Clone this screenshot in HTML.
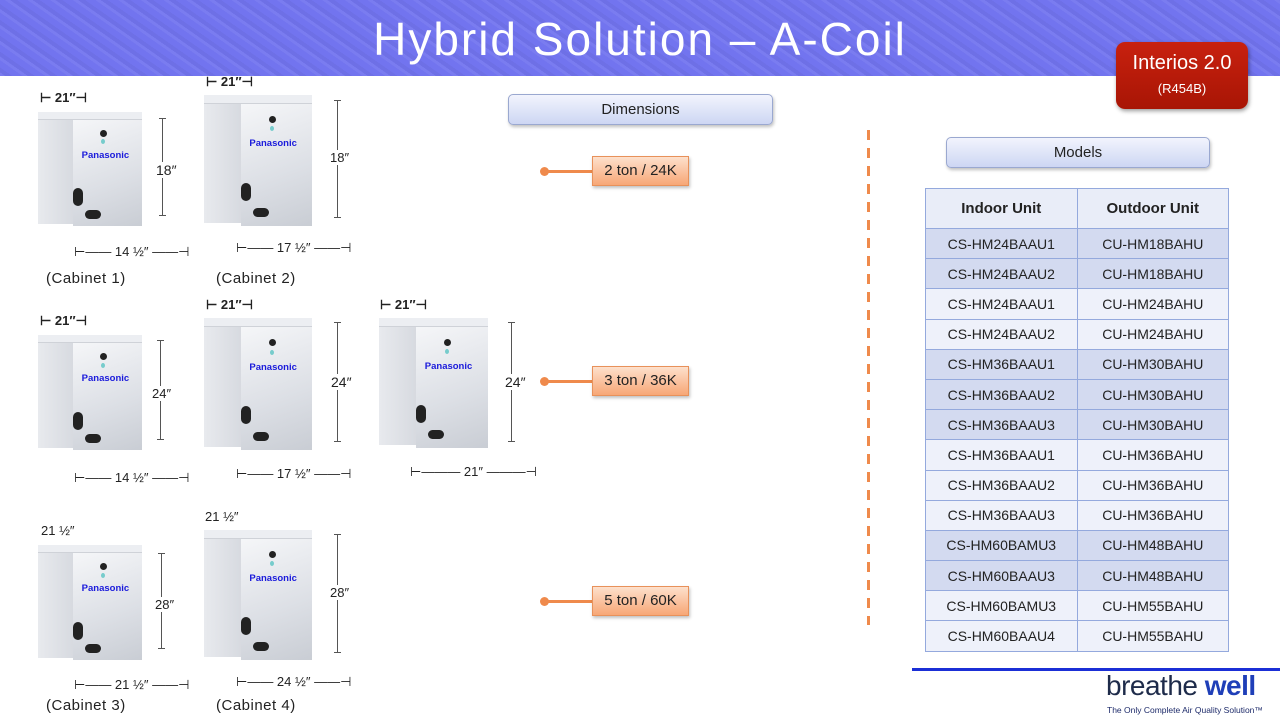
<!DOCTYPE html>
<html><head><meta charset="utf-8"><style>
*{margin:0;padding:0;box-sizing:border-box}
body{width:1280px;height:720px;position:relative;background:#fff;font-family:"Liberation Sans",sans-serif;overflow:hidden;color:#222}
.a{position:absolute}
#hdr{left:0;top:0;width:1280px;height:76px;background:#7274ef;background-image:repeating-linear-gradient(35deg,rgba(255,255,255,.06) 0 3px,rgba(0,0,0,.04) 3px 7px,transparent 7px 13px)}
#title{left:0;top:12px;width:1280px;text-align:center;color:#fff;font-size:46px;letter-spacing:2px}
#int{left:1116px;top:42px;width:132px;height:67px;border-radius:9px;background:linear-gradient(#c8210f,#a81505);color:#fff;text-align:center;box-shadow:1px 2px 4px rgba(0,0,0,.4)}
.cab{position:absolute}
.cab .side{position:absolute;left:0;top:6%;width:34%;height:92%;background:linear-gradient(90deg,#e8eaee,#d7dae0)}
.cab .front{position:absolute;left:34%;top:4%;width:66%;height:96%;background:linear-gradient(160deg,#f6f7f9,#dcdfe5 60%,#c9cdd4)}
.cab .top{position:absolute;left:0;top:0;width:100%;height:7%;background:#eceef2;border-bottom:1px solid #cfd2d8}
.cab .logo{position:absolute;left:42%;top:33%;font:bold 9.5px "Liberation Sans",sans-serif;color:#1a1adb}
.cab .btn{position:absolute;left:60%;top:16%;width:7px;height:7px;border-radius:50%;background:#222}
.cab .led{position:absolute;left:61%;top:24%;width:4px;height:5px;border-radius:50%;background:#7cc}
.cab .h1{position:absolute;left:34%;top:67%;width:10px;height:18px;border-radius:5px;background:#222}
.cab .h2{position:absolute;left:45%;top:86%;width:16px;height:9px;border-radius:5px;background:#222}
.vl{position:absolute;width:1px;background:#555}
.vl:before,.vl:after{content:"";position:absolute;left:-3px;width:7px;height:1px;background:#555}
.vl:before{top:0}.vl:after{bottom:0}
.t{position:absolute;font-size:13px;color:#222}
.cl{position:absolute;font-size:15px;color:#222;letter-spacing:.5px}
.pill{position:absolute;border:1px solid #9aa8d0;border-radius:5px;background:linear-gradient(#f2f4fd,#cdd6f3);text-align:center;font-size:15px;color:#222;box-shadow:1px 2px 3px rgba(0,0,0,.25)}
.ob{position:absolute;left:592px;width:97px;height:30px;background:linear-gradient(#fde0cc,#f7a776);border:1px solid #e8915a;text-align:center;line-height:28px;font-size:15px;color:#222;box-shadow:1px 2px 3px rgba(0,0,0,.25)}
.ol{position:absolute;left:544px;width:48px;height:3px;background:#ef8a4c}
.od{position:absolute;left:540px;width:9px;height:9px;border-radius:50%;background:#ef8a4c}
table{position:absolute;left:925px;top:188px;border-collapse:collapse;width:304px}
td{border:1px solid #94a9dd;height:30.2px;text-align:center;font-size:14px;color:#222;width:152px}
tr.h td{height:40px;font-weight:bold;font-size:15px;background:#e9edf8}
tr.s td{background:#d3daf0}
tr.w td{background:#eef1fa}
</style></head><body>
<div id="hdr" class="a"></div>
<div id="title" class="a">Hybrid Solution – A-Coil</div>
<div id="int" class="a"><div style="font-size:20px;margin-top:10px">Interios 2.0</div><div style="font-size:13px;margin-top:6px">(R454B)</div></div>

<!-- row1 -->
<div class="cab" style="left:38px;top:112px;width:104px;height:114px"><div class="side"></div><div class="front"></div><div class="top"></div><div class="btn"></div><div class="led"></div><div class="logo">Panasonic</div><div class="h1"></div><div class="h2"></div></div>
<div class="cab" style="left:204px;top:95px;width:108px;height:131px"><div class="side"></div><div class="front"></div><div class="top"></div><div class="btn"></div><div class="led"></div><div class="logo">Panasonic</div><div class="h1"></div><div class="h2"></div></div>
<div class="t" style="left:40px;top:90px;font-weight:bold">⊢ 21″⊣</div>
<div class="t" style="left:206px;top:74px;font-weight:bold">⊢ 21″⊣</div>
<div class="vl" style="left:162px;top:118px;height:98px"></div><div class="t" style="left:156px;top:162px;background:#fff;font-size:14px">18″</div>
<div class="vl" style="left:337px;top:100px;height:118px"></div><div class="t" style="left:330px;top:150px;background:#fff">18″</div>
<div class="t" style="left:74px;top:244px">⊢—— 14 ½″ ——⊣</div>
<div class="t" style="left:236px;top:240px">⊢—— 17 ½″ ——⊣</div>
<div class="cl" style="left:46px;top:270px">(Cabinet 1)</div>
<div class="cl" style="left:216px;top:270px">(Cabinet 2)</div>

<!-- row2 -->
<div class="cab" style="left:38px;top:335px;width:104px;height:115px"><div class="side"></div><div class="front"></div><div class="top"></div><div class="btn"></div><div class="led"></div><div class="logo">Panasonic</div><div class="h1"></div><div class="h2"></div></div>
<div class="cab" style="left:204px;top:318px;width:108px;height:132px"><div class="side"></div><div class="front"></div><div class="top"></div><div class="btn"></div><div class="led"></div><div class="logo">Panasonic</div><div class="h1"></div><div class="h2"></div></div>
<div class="cab" style="left:379px;top:318px;width:109px;height:130px"><div class="side"></div><div class="front"></div><div class="top"></div><div class="btn"></div><div class="led"></div><div class="logo">Panasonic</div><div class="h1"></div><div class="h2"></div></div>
<div class="t" style="left:40px;top:313px;font-weight:bold">⊢ 21″⊣</div>
<div class="t" style="left:206px;top:297px;font-weight:bold">⊢ 21″⊣</div>
<div class="t" style="left:380px;top:297px;font-weight:bold">⊢ 21″⊣</div>
<div class="vl" style="left:160px;top:340px;height:100px"></div><div class="t" style="left:152px;top:386px;background:#fff">24″</div>
<div class="vl" style="left:337px;top:322px;height:120px"></div><div class="t" style="left:331px;top:374px;background:#fff;font-size:14px">24″</div>
<div class="vl" style="left:511px;top:322px;height:120px"></div><div class="t" style="left:505px;top:374px;background:#fff;font-size:14px">24″</div>
<div class="t" style="left:74px;top:470px">⊢—— 14 ½″ ——⊣</div>
<div class="t" style="left:236px;top:466px">⊢—— 17 ½″ ——⊣</div>
<div class="t" style="left:410px;top:464px">⊢——— 21″ ———⊣</div>

<!-- row3 -->
<div class="cab" style="left:38px;top:545px;width:104px;height:115px"><div class="side"></div><div class="front"></div><div class="top"></div><div class="btn"></div><div class="led"></div><div class="logo">Panasonic</div><div class="h1"></div><div class="h2"></div></div>
<div class="cab" style="left:204px;top:530px;width:108px;height:130px"><div class="side"></div><div class="front"></div><div class="top"></div><div class="btn"></div><div class="led"></div><div class="logo">Panasonic</div><div class="h1"></div><div class="h2"></div></div>
<div class="t" style="left:41px;top:523px">21 ½″</div>
<div class="t" style="left:205px;top:509px">21 ½″</div>
<div class="vl" style="left:161px;top:553px;height:96px"></div><div class="t" style="left:155px;top:597px;background:#fff">28″</div>
<div class="vl" style="left:337px;top:534px;height:119px"></div><div class="t" style="left:330px;top:585px;background:#fff">28″</div>
<div class="t" style="left:74px;top:677px">⊢—— 21 ½″ ——⊣</div>
<div class="t" style="left:236px;top:674px">⊢—— 24 ½″ ——⊣</div>
<div class="cl" style="left:46px;top:697px">(Cabinet 3)</div>
<div class="cl" style="left:216px;top:697px">(Cabinet 4)</div>

<div class="pill" style="left:508px;top:94px;width:265px;height:31px;line-height:29px">Dimensions</div>
<div class="ol" style="top:170px"></div><div class="od" style="top:167px"></div><div class="ob" style="top:156px">2 ton / 24K</div>
<div class="ol" style="top:380px"></div><div class="od" style="top:377px"></div><div class="ob" style="top:366px">3 ton / 36K</div>
<div class="ol" style="top:600px"></div><div class="od" style="top:597px"></div><div class="ob" style="top:586px">5 ton / 60K</div>

<div class="a" style="left:867px;top:130px;width:3px;height:495px;background:repeating-linear-gradient(#ef8a4c 0 10px,transparent 10px 18px)"></div>

<div class="pill" style="left:946px;top:137px;width:264px;height:31px;line-height:29px">Models</div>
<table>
<tr class="h"><td>Indoor Unit</td><td>Outdoor Unit</td></tr>
<tr class="s"><td>CS-HM24BAAU1</td><td>CU-HM18BAHU</td></tr>
<tr class="s"><td>CS-HM24BAAU2</td><td>CU-HM18BAHU</td></tr>
<tr class="w"><td>CS-HM24BAAU1</td><td>CU-HM24BAHU</td></tr>
<tr class="w"><td>CS-HM24BAAU2</td><td>CU-HM24BAHU</td></tr>
<tr class="s"><td>CS-HM36BAAU1</td><td>CU-HM30BAHU</td></tr>
<tr class="s"><td>CS-HM36BAAU2</td><td>CU-HM30BAHU</td></tr>
<tr class="s"><td>CS-HM36BAAU3</td><td>CU-HM30BAHU</td></tr>
<tr class="w"><td>CS-HM36BAAU1</td><td>CU-HM36BAHU</td></tr>
<tr class="w"><td>CS-HM36BAAU2</td><td>CU-HM36BAHU</td></tr>
<tr class="w"><td>CS-HM36BAAU3</td><td>CU-HM36BAHU</td></tr>
<tr class="s"><td>CS-HM60BAMU3</td><td>CU-HM48BAHU</td></tr>
<tr class="s"><td>CS-HM60BAAU3</td><td>CU-HM48BAHU</td></tr>
<tr class="w"><td>CS-HM60BAMU3</td><td>CU-HM55BAHU</td></tr>
<tr class="w"><td>CS-HM60BAAU4</td><td>CU-HM55BAHU</td></tr>
</table>

<div class="a" style="left:912px;top:668px;width:368px;height:3px;background:#1b2fd6"></div>
<div class="a" style="left:1106px;top:670px;font-size:28px;color:#1e2b4a;letter-spacing:-.5px">breathe <b style="color:#1f3fb8">well</b></div>
<div class="a" style="left:1107px;top:705px;font-size:8.5px;color:#1e2b6a">The Only Complete Air Quality Solution™</div>
</body></html>
